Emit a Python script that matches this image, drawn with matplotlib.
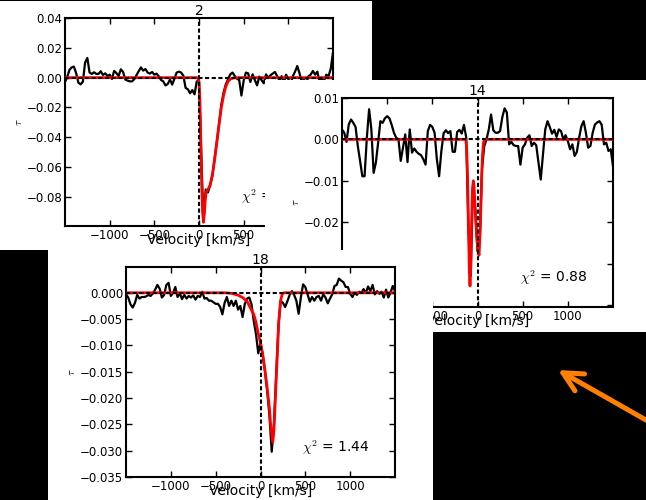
import matplotlib
matplotlib.use("Agg")
import matplotlib.pyplot as plt
import numpy as np
from matplotlib.patches import Rectangle, FancyArrowPatch

plt.rcParams["mathtext.fontset"] = "cm"

# velocity channels shared by all three spectra (km/s)
velocity = np.arange(-1500, 1501, 25)

# optical depth spectra, in units of 1e-3
tau_2 = [
    -2.9, 0.4, 5.2, 6.9, 7.4, 2.9, -3.4, -4.5, -2.7, 10.1,
    13.2, 3.4, 2.5, 3.6, 2.5, 2.5, 4.3, 1.8, 2.9, 1.1,
    2.0, -0.9, 4.5, 3.1, 1.1, 5.6, 3.8, -1.3, -2.0, -2.5,
    -2.5, -1.1, 1.6, 4.3, 6.9, 4.7, 5.8, 3.4, 2.7, 3.8,
    2.0, 2.7, 0.9, -1.6, -2.5, -5.2, -4.3, -1.3, -4.7, -0.7,
    3.4, 4.0, 3.4, 1.3, -6.9, -7.8, -10.5, -8.3, -11.2,
    -2.5, -2.0,
    -50, -96.5, -75, -77, -72, -66, -54, -43, -31, -18,
    -10, -4.5, -1.1, 2.2, 3.4, 1.1, -0.7, -1.6, -12, -2,
    3.4, 2.9, -2.9, 2.2, -1.6, -5.2, 0.7, -1.6, -3.8, 2.2,
    0, 1.6, 2.7, 3.8, 1.1,
    -2, 1, -3, 2, -1, -4, 1, 4, 7.8, 3,
    -3, -1, -4, 1, 2, 4.5, 2, 4, -3, 0,
    -2, 2, 1, 6, 17,
]
tau_14 = [
    2.4, 1.6, -0.6, 3.6, 4.8, 4.0, 3.0, -1.6, -5.2, -8.9,
    -8.9, 0.4, 7.3, 2.4, -8.1, -5.6, -0.8, 4.4, 4.0, 5.1,
    5.6, 5.1, 3.5, 1.6, 0.4, 0.0, -5.2, -2.0, 1.2, -5.5,
    2.4, -3.2, -2.2, -3.0, -3.5, -3.8, -4.8, -6.1, 2.0, 3.5,
    3.0, 1.6, -4.8, -8.9, -2.8, 1.5, 2.2, 1.5, 2.0, -3.0,
    -3.0, 1.8, 2.3, 1.4, 3.5, 0.5,
    -22, -33, -11, -17, -27, -24, -7,
    -1.6, 0, 2.4, 6.0, 2.2, 1.6, 1.6, 2.0, 5.4, 7.5,
    6.5, -1.2, -0.6, -1.4, -1.6, -1.6, -6.1, -2.0, -1.2, 0.4,
    1.0, -1.6, -0.8, -1.4, -5.6, -9.7, -3.6, 2.4, 4.4, 3.0,
    1.4, 2.3, 0.6, 2.4, 2.0, 0, 1.0, -0.4, -2.4, -1.2,
    -4.0, -3.0, 0.4, 3.2, 4.4, 1.6, -2.0, -1.6, 1.6, 3.6,
    4.1, 4.4, 3.5, -1.2, -0.8, -2.8, -2.4, -6.5,
]
tau_18 = [
    -0.3, -0.9, -2.2, -2.8, -1.9, -0.4, -1.1, -0.8, -0.8, -0.7,
    -0.4, -0.6, -0.1, 0.6, 1.5, 0.8, -0.9, -0.4, 1.5, 1.9,
    -0.6, 0.0, 1.1, -0.8, -0.1, -1.2, -0.4, -1.1, -0.6, -0.9,
    -0.5, -1.3, -0.6, -0.8, 0.2, -1.1, -1.0, -1.5, -1.5, -1.8,
    -2.1, -2.1, -2.7, -4.1, -1.9, -0.8, -2.5, -1.5, -2.5, -1.5,
    -3.2, -2.5, -4.6, -2.1, -1.1, -0.9, -2.2, -5.4, -7.9, -11.5,
    -9.5, -11.7, -14.9, -18.7, -23.4, -30.2, -25.0, -15.5, -6.3, -1.6,
    -1.9, -2.7, -1.6, -0.4, 0.3, -0.4, -1.5, -4.0, -0.9, 1.6,
    1.1, -0.3, -1.7, -0.8, -1.5, -0.8, -0.6, -1.5, -0.3, -0.9,
    -2.0, -1.1, -0.3, 1.3, 1.5, 2.7, 2.3, 2.0, 1.1, 1.1,
    -0.2, -0.8, 0.0, -0.4, 0.2, 0.0, 0.7, 0.0, 1.2, 0.3,
    1.5, -0.3, 0.3, -0.2, 0.2, -0.9, 0.6, -0.9, 0.0, 1.3,
    0.3,
]

# fitted absorption models (velocity in km/s, tau in 1e-3)
fit_vel_2 = [-1500, -20, -10, 0, 10, 20, 30, 40, 50, 60, 70, 80, 90, 100,
             125, 150, 175, 200, 225, 250, 275, 300, 325, 350, 375, 400, 450, 1500]
fit_tau_2 = [0, 0, -0.5, -3, -15, -42, -72, -90, -97, -91, -82, -77, -76, -75,
             -72, -65, -55, -43, -31, -20, -12, -6, -2.5, -1, -0.4, -0.1, 0, 0]

fit_vel_14 = [-1500, -130, -120, -110, -100, -90, -83, -75, -65, -55, -46, -38,
              -25, -10, 5, 17, 30, 45, 55, 65, 75, 1500]
fit_tau_14 = [0, 0, -2, -9, -21, -32, -35.4, -31, -20, -12, -10, -11.5,
              -17, -23, -27, -28, -22, -10, -4, -1, 0, 0]

fit_vel_18 = [-1500, -400, -325, -250, -200, -150, -100, -75, -50, -25, 0, 25, 50,
              75, 100, 115, 137, 150, 167, 186, 204, 223, 241, 260, 1500]
fit_tau_18 = [0, 0, -0.1, -0.45, -0.9, -1.6, -3.3, -4.1, -5.6, -7.8, -9.5, -11.8, -14.8,
              -18.2, -22, -25.5, -28.4, -26, -19.6, -12.3, -5.4, -1.6, -0.3, 0, 0]

W, H = 646, 500


def frac(left, top, right, bottom):
    """pixel box -> figure fraction rect"""
    return [left / W, 1 - bottom / H, (right - left) / W, (bottom - top) / H]


def draw_panel(fig, rect, title, tau, fit_vel, fit_tau, ylim, yticks, chi, z):
    ax = fig.add_axes(rect, zorder=z)
    ax.set_facecolor("white")
    ax.plot(velocity, np.array(tau) * 1e-3, color="black", lw=1.6, zorder=2)
    ax.plot(fit_vel, np.array(fit_tau) * 1e-3, color="red", lw=2.0, zorder=3)
    ax.axhline(0, color="black", ls=(0, (2, 1.2)), lw=1.5, zorder=4)
    ax.axvline(0, color="black", ls=(0, (2, 1.2)), lw=1.5, zorder=4)
    ax.set_xlim(-1500, 1500)
    ax.set_ylim(*ylim)
    ax.set_xticks([-1000, -500, 0, 500, 1000])
    ax.set_yticks(yticks)
    ax.tick_params(direction="in", top=True, right=True, length=4, width=1,
                   labelsize=8.5, pad=2)
    for sp in ax.spines.values():
        sp.set_linewidth(1.5)
    ax.set_title(title, fontsize=10, pad=2)
    ax.set_xlabel("Velocity [km/s]", fontsize=10, labelpad=-6)
    ax.set_ylabel(r"$\tau$", fontsize=8, labelpad=2)
    ax.text(0.655, 0.14, chi, transform=ax.transAxes, fontsize=10, va="center")
    return ax


fig = plt.figure(figsize=(W / 100, H / 100), dpi=100, facecolor="black")

# white backing cards, stacked back to front
cards = [(0, 1, 372, 250, 1), (265, 80, 646, 332, 3), (48, 250, 433, 500, 5)]
for left, top, right, bottom, z in cards:
    r = frac(left, top, right, bottom)
    fig.add_artist(Rectangle((r[0], r[1]), r[2], r[3], transform=fig.transFigure,
                             facecolor="white", edgecolor="none", zorder=z))

draw_panel(fig, frac(65, 18, 333, 226), "2", tau_2, fit_vel_2, fit_tau_2,
           (-0.0995, 0.04), [-0.08, -0.06, -0.04, -0.02, 0.0, 0.02, 0.04],
           r"$\chi^2$ =", 2)
draw_panel(fig, frac(342, 98, 613, 307), "14", tau_14, fit_vel_14, fit_tau_14,
           (-0.0405, 0.01), [-0.04, -0.03, -0.02, -0.01, 0.0, 0.01],
           r"$\chi^2$ = 0.88", 4)
draw_panel(fig, frac(126, 267, 395, 477), "18", tau_18, fit_vel_18, fit_tau_18,
           (-0.035, 0.0049), [-0.035, -0.03, -0.025, -0.02, -0.015, -0.01, -0.005, 0.0],
           r"$\chi^2$ = 1.44", 6)

arrow = FancyArrowPatch(posA=(660 / W, 1 - 428 / H), posB=(558 / W, 1 - 370 / H),
                        transform=fig.transFigure,
                        arrowstyle="->,head_length=14,head_width=7",
                        mutation_scale=1, lw=3.6, color="#ff7f00",
                        capstyle="round", joinstyle="round",
                        shrinkA=0, shrinkB=0, zorder=8)
fig.add_artist(arrow)

fig.savefig("out.png", dpi=100, facecolor="black")
